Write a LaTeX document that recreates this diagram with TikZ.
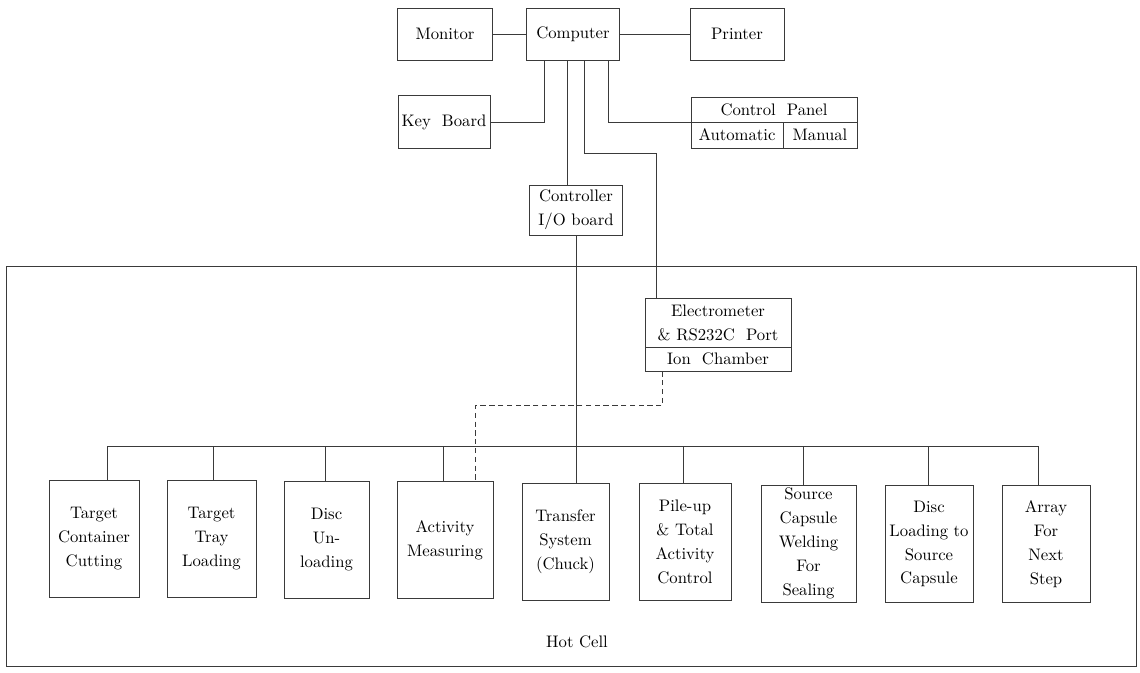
\documentclass[tikz,border=0pt]{standalone}
\usetikzlibrary{calc}
\definecolor{cline}{HTML}{3A3A3A}
\tikzset{
  every picture/.style={line width=0.5pt},
  blk/.style={draw=cline, align=center, inner sep=1pt, font=\fontsize{9.5}{13.6}\selectfont},
  unit/.style={blk, minimum height=2.34cm},
  wire/.style={draw=cline, line width=0.5pt},
}
\begin{document}
\begin{tikzpicture}[x=0.02cm, y=-0.02cm]
  \useasboundingbox (0,0) rectangle (1140,673);
  % ---- top: computer and peripherals
  \node[blk, minimum width=1.9cm, minimum height=1.04cm] (mon) at (445,34) {Monitor};
  \node[blk, minimum width=1.86cm, minimum height=1.04cm] (comp) at (573,34) {Computer};
  \node[blk, minimum width=1.88cm, minimum height=1.04cm] (prn) at (737,34) {Printer};
  \node[blk, minimum width=1.84cm, minimum height=1.06cm] (kb) at (444,122) {Key\ \ Board};
  \node[blk, minimum width=3.32cm, minimum height=0.5cm] (cp) at (774,109.5) {Control\ \ Panel};
  \node[blk, minimum width=1.84cm, minimum height=0.52cm] (auto) at (737,135) {Automatic};
  \node[blk, minimum width=1.48cm, minimum height=0.52cm] (man) at (820,135) {Manual};
  \node[blk, minimum width=1.86cm, minimum height=1.0cm] (ctrl) at (576,210) {Controller\\I/O board};
  \draw[wire] (mon) -- (comp);
  \draw[wire] (comp) -- (prn);
  \draw[wire] ($(comp.south west)+(18,0)$) |- (kb.east);
  \draw[wire] ($(comp.south west)+(82,0)$) |- (cp.south west);
  \draw[wire] ($(comp.south west)+(41,0)$) coordinate (t) -- (t |- ctrl.north);
  % ---- hot cell
  \node[draw=cline, minimum width=22.62cm, minimum height=8cm] (hot) at (571.5,466) {};
  \node[font=\fontsize{9.5}{12}\selectfont] (hotlab) at (577,642) {Hot Cell};
  \node[blk, minimum width=2.92cm, minimum height=0.98cm] (elec) at (718,322.5) {Electrometer\\\&\ RS232C\ \ Port};
  \node[blk, minimum width=2.92cm, minimum height=0.48cm] (ion) at (718,359) {Ion\ \ Chamber};
  \draw[wire] ($(comp.south west)+(58,0)$) -- ++(0,93) -| ($(elec.north west)+(12,0)$);
  % ---- process units
  \node[unit, minimum width=1.8cm] (tcc) at (94,538.5) {Target\\Container\\Cutting};
  \node[unit, minimum width=1.78cm] (ttl) at (211.5,538.5) {Target\\Tray\\Loading};
  \node[unit, minimum width=1.7cm] (du) at (326.5,539.5) {Disc\\Un-\\loading};
  \node[unit, minimum width=1.92cm] (act) at (445,540) {Activity\\Measuring};
  \node[unit, minimum width=1.74cm] (tr) at (565.5,542) {Transfer\\System\\(Chuck)};
  \node[unit, minimum width=1.84cm] (pile) at (685,542) {Pile-up\\\&\ Total\\Activity\\Control};
  \node[unit, minimum width=1.9cm] (scw) at (808.5,543.5) {Source\\Capsule\\Welding\\For\\Sealing};
  \node[unit, minimum width=1.76cm] (dls) at (929,544) {Disc\\Loading\ to\\Source\\Capsule};
  \node[unit, minimum width=1.76cm] (arr) at (1046,544) {Array\\For\\Next\\Step};
  % bus and drops
  \coordinate (busL) at (107,446);
  \coordinate (busR) at (1038,446);
  \draw[wire] (busL) -- (busR);
  \foreach \n/\xx in {tcc/107, ttl/213, du/325, act/443, pile/683, scw/803, dls/928, arr/1038}
    \draw[wire] (\xx,446) -- (\xx,446 |- \n.north);
  \draw[wire] (ctrl.south) -- (ctrl.south |- tr.north);
  \draw[wire, dashed, dash pattern=on 3pt off 2pt] ($(ion.south west)+(18,0)$) -- ++(0,34) -| ($(act.north west)+(79,0)$);
\end{tikzpicture}
\end{document}
